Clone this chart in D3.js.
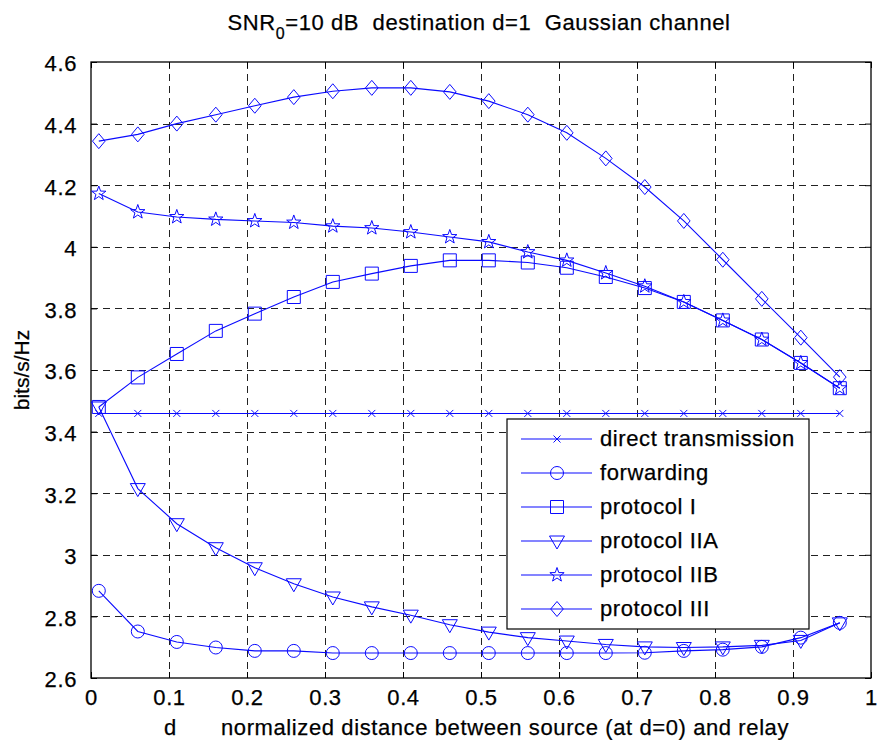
<!DOCTYPE html>
<html>
<head>
<meta charset="utf-8">
<script src="https://cdn.jsdelivr.net/npm/d3@7"></script>
<style>
  body { margin: 0; background: #fff; }
  svg { display: block; font-family: "Liberation Sans", Arial, sans-serif; }
  text { white-space: pre; stroke: #000; stroke-width: 0.25px; }
</style>
</head>
<body>
<div id="chart"></div>
<script>
// distance of relay, d
var distances = [0.01, 0.06, 0.11, 0.16, 0.21, 0.26, 0.31, 0.36, 0.41, 0.46,
                 0.51, 0.56, 0.61, 0.66, 0.71, 0.76, 0.81, 0.86, 0.91, 0.96];

var directTransmission = [3.459, 3.459, 3.459, 3.459, 3.459, 3.459, 3.459, 3.459, 3.459, 3.459,
                          3.459, 3.459, 3.459, 3.459, 3.459, 3.459, 3.459, 3.459, 3.459, 3.459];
var forwarding = [2.883, 2.751, 2.717, 2.699, 2.688, 2.688, 2.681, 2.681, 2.681, 2.681,
                  2.681, 2.681, 2.681, 2.681, 2.682, 2.688, 2.692, 2.701, 2.731, 2.779];
var protocolI = [3.480, 3.576, 3.652, 3.727, 3.783, 3.837, 3.886, 3.913, 3.938, 3.956,
                 3.956, 3.949, 3.932, 3.902, 3.866, 3.821, 3.761, 3.699, 3.623, 3.541];
var protocolIIA = [3.480, 3.215, 3.101, 3.023, 2.958, 2.906, 2.863, 2.831, 2.804, 2.773,
                   2.749, 2.731, 2.720, 2.709, 2.701, 2.699, 2.701, 2.706, 2.722, 2.779];
var protocolIIB = [4.173, 4.113, 4.097, 4.089, 4.084, 4.079, 4.067, 4.061, 4.048, 4.032,
                   4.016, 3.983, 3.956, 3.915, 3.872, 3.821, 3.761, 3.699, 3.623, 3.541];
var protocolIII = [4.343, 4.365, 4.400, 4.429, 4.458, 4.486, 4.505, 4.516, 4.516, 4.503,
                   4.473, 4.429, 4.370, 4.287, 4.194, 4.084, 3.958, 3.831, 3.705, 3.577];

var seriesNames = ["direct transmission", "forwarding", "protocol I", "protocol IIA", "protocol IIB", "protocol III"];
var seriesMarkers = ["x", "circle", "square", "triangleDown", "star", "diamond"];

var xTicks = [0, 0.1, 0.2, 0.3, 0.4, 0.5, 0.6, 0.7, 0.8, 0.9, 1];
var yTicks = [2.6, 2.8, 3, 3.2, 3.4, 3.6, 3.8, 4, 4.2, 4.4, 4.6];

var W = 880, H = 740,
    margin = { left: 91, right: 9, top: 62, bottom: 62 },
    blue = "#0a0aff",
    fontSize = 22,
    spacing = "0.6px";

var series = [directTransmission, forwarding, protocolI, protocolIIA, protocolIIB, protocolIII]
    .map(function (vals, i) {
        return { name: seriesNames[i], marker: seriesMarkers[i],
                 points: vals.map(function (v, j) { return [distances[j], v]; }) };
    });

var svg = d3.select("#chart").append("svg").attr("width", W).attr("height", H);

var x = d3.scaleLinear().domain([0, 1]).range([margin.left, W - margin.right]);
var y = d3.scaleLinear().domain([2.6, 4.6]).range([H - margin.bottom, margin.top]);

var markerPath = function (type) {
    var p = d3.path();
    if (type === "x") {
        p.moveTo(-3.5, -3.5); p.lineTo(3.5, 3.5);
        p.moveTo(-3.5, 3.5); p.lineTo(3.5, -3.5);
    } else if (type === "circle") {
        p.moveTo(6.5, 0); p.arc(0, 0, 6.5, 0, 2 * Math.PI);
    } else if (type === "square") {
        p.rect(-6.5, -6.5, 13, 13);
    } else if (type === "triangleDown") {
        p.moveTo(-7.5, -5); p.lineTo(7.5, -5); p.lineTo(0, 8); p.closePath();
    } else if (type === "star") {
        for (var k = 0; k < 10; k++) {
            var r = k % 2 === 0 ? 7.5 : 3,
                a = -Math.PI / 2 + k * Math.PI / 5;
            if (k === 0) p.moveTo(r * Math.cos(a), r * Math.sin(a));
            else p.lineTo(r * Math.cos(a), r * Math.sin(a));
        }
        p.closePath();
    } else if (type === "diamond") {
        p.moveTo(0, -7.5); p.lineTo(6.3, 0); p.lineTo(0, 7.5); p.lineTo(-6.3, 0); p.closePath();
    }
    return p.toString();
};

// dashed grid
var grid = svg.append("g").attr("stroke", "#222").attr("stroke-width", 1)
    .attr("stroke-dasharray", "7,5").attr("shape-rendering", "crispEdges");
grid.selectAll("line.v").data(xTicks.slice(1, -1)).enter().append("line")
    .attr("x1", function (d) { return Math.round(x(d)) + 0.5; })
    .attr("x2", function (d) { return Math.round(x(d)) + 0.5; })
    .attr("y1", y(4.6)).attr("y2", y(2.6));
grid.selectAll("line.h").data(yTicks.slice(1, -1)).enter().append("line")
    .attr("y1", function (d) { return Math.round(y(d)) + 0.5; })
    .attr("y2", function (d) { return Math.round(y(d)) + 0.5; })
    .attr("x1", x(0)).attr("x2", x(1));

// axes with inward ticks
var fmt = function (d) { return d3.format("")(+d.toFixed(1)); };
var axB = svg.append("g").attr("transform", "translate(0," + y(2.6) + ")")
    .call(d3.axisBottom(x).tickValues(xTicks).tickSize(-6).tickPadding(12).tickFormat(fmt));
var axT = svg.append("g").attr("transform", "translate(0," + y(4.6) + ")")
    .call(d3.axisTop(x).tickValues(xTicks).tickSize(-6).tickFormat(""));
var axL = svg.append("g").attr("transform", "translate(" + x(0) + ",0)")
    .call(d3.axisLeft(y).tickValues(yTicks).tickSize(-6).tickPadding(14).tickFormat(fmt));
var axR = svg.append("g").attr("transform", "translate(" + x(1) + ",0)")
    .call(d3.axisRight(y).tickValues(yTicks).tickSize(-6).tickFormat(""));
[axB, axT, axL, axR].forEach(function (a) {
    a.select(".domain").remove();
    a.selectAll("line").attr("stroke", "#000");
    a.selectAll("text").attr("font-size", fontSize).attr("fill", "#000")
        .attr("letter-spacing", spacing)
        .attr("font-family", "'Liberation Sans', Arial, sans-serif");
});
axB.selectAll("text").attr("dy", null).attr("y", 27);
axL.selectAll("text").attr("dy", "0.4em");
svg.append("rect").attr("x", x(0)).attr("y", y(4.6))
    .attr("width", x(1) - x(0)).attr("height", y(2.6) - y(4.6))
    .attr("fill", "none").attr("stroke", "#000").attr("stroke-width", 1.3);

// series lines and markers
var line = d3.line().x(function (d) { return x(d[0]); }).y(function (d) { return y(d[1]); });
var plot = svg.append("g");
series.forEach(function (s) {
    var g = plot.append("g");
    g.append("path").attr("d", line(s.points)).attr("fill", "none")
        .attr("stroke", blue).attr("stroke-width", 1.1);
    g.selectAll("path.m").data(s.points).enter().append("path").attr("class", "m")
        .attr("transform", function (d) { return "translate(" + x(d[0]) + "," + y(d[1]) + ")"; })
        .attr("d", markerPath(s.marker))
        .attr("fill", "none").attr("stroke", blue).attr("stroke-width", 1);
});

// legend
var lg = svg.append("g").attr("transform", "translate(507,419)");
lg.append("rect").attr("width", 302).attr("height", 210)
    .attr("fill", "#fff").attr("stroke", "#000").attr("stroke-width", 1.2);
series.forEach(function (s, i) {
    var cy = 20 + i * 34;
    lg.append("line").attr("x1", 14).attr("x2", 85).attr("y1", cy).attr("y2", cy)
        .attr("stroke", blue).attr("stroke-width", 1.1);
    lg.append("path").attr("transform", "translate(50," + cy + ")")
        .attr("d", markerPath(s.marker)).attr("fill", "none").attr("stroke", blue);
    lg.append("text").attr("x", 93).attr("y", cy + 7).attr("font-size", fontSize)
        .attr("letter-spacing", spacing).attr("fill", "#000").text(s.name);
});

// title
var title = svg.append("text").attr("x", 479).attr("y", 30).attr("text-anchor", "middle")
    .attr("font-size", fontSize).attr("letter-spacing", spacing).attr("fill", "#000");
title.append("tspan").text("SNR");
title.append("tspan").attr("font-size", 16).attr("dy", 9).text("0");
title.append("tspan").attr("dy", -9).text("=10 dB  destination d=1  Gaussian channel");

// axis labels
svg.append("text").attr("x", 170).attr("y", 735).attr("text-anchor", "middle")
    .attr("font-size", fontSize).attr("fill", "#000").text("d");
svg.append("text").attr("x", 221).attr("y", 735)
    .attr("font-size", fontSize).attr("letter-spacing", spacing).attr("fill", "#000")
    .text("normalized distance between source (at d=0) and relay");
svg.append("text").attr("transform", "translate(29," + y(3.6) + ") rotate(-90)")
    .attr("text-anchor", "middle").attr("font-size", 21).attr("fill", "#000").text("bits/s/Hz");
</script>
</body>
</html>
